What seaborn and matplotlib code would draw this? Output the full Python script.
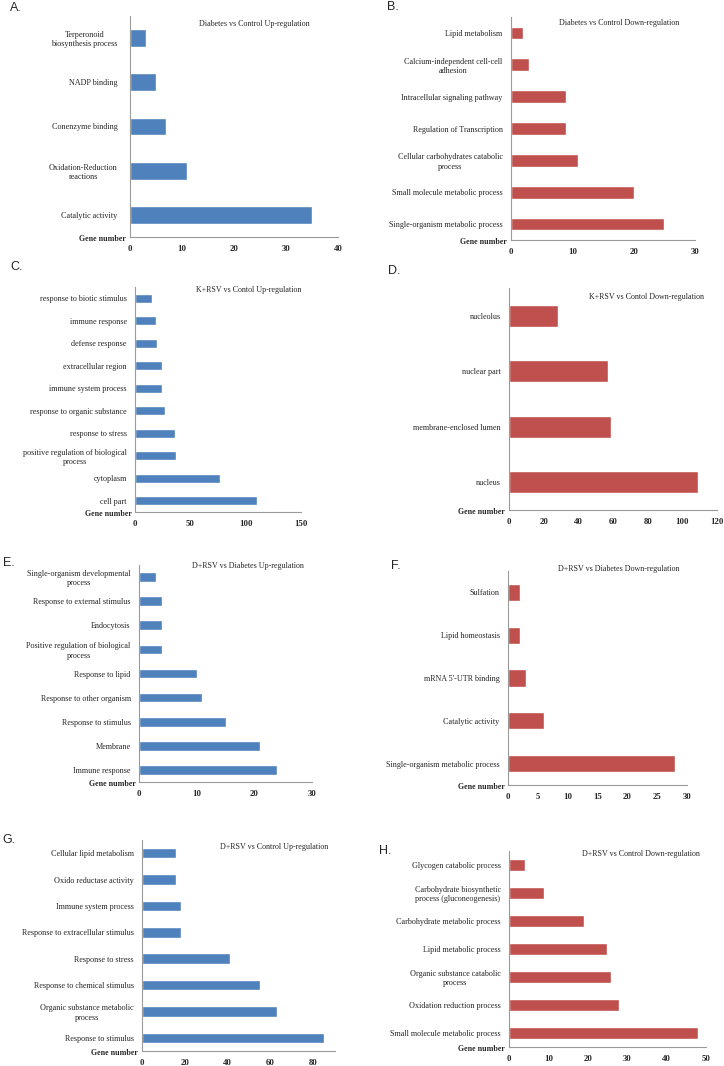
import numpy as np
import pandas as pd
import matplotlib
matplotlib.use('Agg')
import matplotlib.pyplot as plt
import seaborn as sns

BLUE = '#4F81BD'
RED = '#C0504D'
W, H = 724, 1066

# A. Diabetes vs Control Up-regulation
a_terms = ['Terperonoid\nbiosynthesis process', 'NADP binding', 'Conenzyme binding',
           'Oxidation-Reduction\nreactions', 'Catalytic activity']
a_counts = [3, 5, 7, 11, 35]

# B. Diabetes vs Control Down-regulation
b_terms = ['Lipid metabolism', 'Calcium-independent cell-cell\nadhesion',
           'Intracellular signaling pathway', 'Regulation of Transcription',
           'Cellular carbohydrates catabolic\nprocess', 'Small molecule metabolic process',
           'Single-organism metabolic process']
b_counts = [2, 3, 9, 9, 11, 20, 25]

# C. K+RSV vs Contol Up-regulation
c_terms = ['response to biotic stimulus', 'immune response', 'defense response',
           'extracellular region', 'immune system process', 'response to organic substance',
           'response to stress', 'positive regulation of biological\nprocess',
           'cytoplasm', 'cell part']
c_counts = [15, 19, 20, 24, 24, 27, 36, 37, 77, 110]

# D. K+RSV vs Contol Down-regulation
d_terms = ['nucleolus', 'nuclear part', 'membrane-enclosed lumen', 'nucleus']
d_counts = [28, 57, 59, 109]

# E. D+RSV vs Diabetes Up-regulation
e_terms = ['Single-organism developmental\nprocess', 'Response to external stimulus',
           'Endocytosis', 'Positive regulation of biological\nprocess', 'Response to lipid',
           'Response to other organism', 'Response to stimulus', 'Membrane', 'Immune response']
e_counts = [3, 4, 4, 4, 10, 11, 15, 21, 24]

# F. D+RSV vs Diabetes Down-regulation
f_terms = ['Sulfation', 'Lipid homeostasis', "mRNA 5'-UTR binding", 'Catalytic activity',
           'Single-organism metabolic process']
f_counts = [2, 2, 3, 6, 28]

# G. D+RSV vs Control Up-regulation
g_terms = ['Cellular lipid metabolism', 'Oxido reductase activity', 'Immune system process',
           'Response to extracellular stimulus', 'Response to stress',
           'Response to chemical stimulus', 'Organic substance metabolic\nprocess',
           'Response to stimulus']
g_counts = [16, 16, 18, 18, 41, 55, 63, 85]

# H. D+RSV vs Control Down-regulation
h_terms = ['Glycogen catabolic process', 'Carbohydrate biosynthetic\nprocess (gluconeogenesis)',
           'Carbohydrate metabolic process', 'Lipid metabolic process',
           'Organic substance catabolic\nprocess', 'Oxidation reduction process',
           'Small molecule metabolic process']
h_counts = [4, 9, 19, 25, 26, 28, 48]

panels = [
    dict(letter='A.', title='Diabetes vs Control Up-regulation', terms=a_terms, counts=a_counts,
         color=BLUE, xmax=40, step=10, box=(130, 16, 338, 237), tpos=(310, 24), lpos=(10, 8), pad=9),
    dict(letter='B.', title='Diabetes vs Control Down-regulation', terms=b_terms, counts=b_counts,
         color=RED, xmax=30, step=10, box=(511, 17, 695, 240), tpos=(679, 23), lpos=(387, 7), pad=6),
    dict(letter='C.', title='K+RSV vs Contol Up-regulation', terms=c_terms, counts=c_counts,
         color=BLUE, xmax=150, step=50, box=(135, 287, 301, 512), tpos=(301, 290), lpos=(10, 267), pad=6),
    dict(letter='D.', title='K+RSV vs Contol Down-regulation', terms=d_terms, counts=d_counts,
         color=RED, xmax=120, step=20, box=(509, 288, 717, 510), tpos=(704, 297), lpos=(388, 271), pad=6),
    dict(letter='E.', title='D+RSV vs Diabetes Up-regulation', terms=e_terms, counts=e_counts,
         color=BLUE, xmax=30, step=10, box=(139, 565, 312, 782), tpos=(304, 566), lpos=(3, 563), pad=6),
    dict(letter='F.', title='D+RSV vs Diabetes Down-regulation', terms=f_terms, counts=f_counts,
         color=RED, xmax=30, step=5, box=(508, 571, 687, 785), tpos=(679, 569), lpos=(391, 566), pad=6),
    dict(letter='G.', title='D+RSV vs Control Up-regulation', terms=g_terms, counts=g_counts,
         color=BLUE, xmax=90, step=20, box=(142, 840, 335, 1051), tpos=(328, 847), lpos=(2, 840), pad=6),
    dict(letter='H.', title='D+RSV vs Control Down-regulation', terms=h_terms, counts=h_counts,
         color=RED, xmax=50, step=10, box=(509, 851, 706, 1047), tpos=(700, 854), lpos=(379, 851), pad=6),
]

sns.set_style('white')
plt.rcParams['font.family'] = ['Liberation Serif', 'DejaVu Serif']

fig = plt.figure(figsize=(W / 100, H / 100), dpi=100)
AXIS_GRAY = '#9a9a9a'


def draw_panel(p):
    l, t, r, b = p['box']
    ax = fig.add_axes([l / W, 1 - b / H, (r - l) / W, (b - t) / H])
    df = pd.DataFrame({'term': p['terms'], 'count': p['counts']})
    sns.barplot(data=df, x='count', y='term', orient='h', color=p['color'],
                saturation=1, width=0.4, ax=ax)
    n = len(p['terms'])
    ax.set_xlim(0, p['xmax'])
    ax.set_ylim(n - 0.5, -0.5)
    ax.set_xticks(np.arange(0, p['xmax'] + 1, p['step']))
    ax.set_xlabel('')
    ax.set_ylabel('')
    sns.despine(ax=ax)
    for side in ['left', 'bottom']:
        ax.spines[side].set_color(AXIS_GRAY)
        ax.spines[side].set_linewidth(0.8)
    ax.set_yticks(np.arange(-0.5, n, 1), minor=True)
    ax.tick_params(axis='y', which='major', length=0, pad=p['pad'], labelsize=5.9)
    ax.tick_params(axis='y', which='minor', length=3, width=0.7, color=AXIS_GRAY, direction='out')
    ax.tick_params(axis='x', which='major', length=2.5, width=0.7, color=AXIS_GRAY,
                   direction='out', labelsize=6.3, pad=3)
    for lbl in ax.get_xticklabels():
        lbl.set_fontweight('bold')
    for lbl in ax.get_yticklabels():
        lbl.set_multialignment('center')
    ax.text(-0.02, -0.01, 'Gene number', transform=ax.transAxes, ha='right', va='center',
            fontsize=5.7, fontweight='bold')
    fig.text(p['tpos'][0] / W, 1 - p['tpos'][1] / H, p['title'], ha='right', va='center',
             fontsize=5.8)
    fig.text(p['lpos'][0] / W, 1 - p['lpos'][1] / H, p['letter'], ha='left', va='center',
             fontsize=9, family=['Liberation Sans', 'DejaVu Sans'])


for p in panels:
    draw_panel(p)

fig.savefig('out.png', dpi=100, facecolor='white')
